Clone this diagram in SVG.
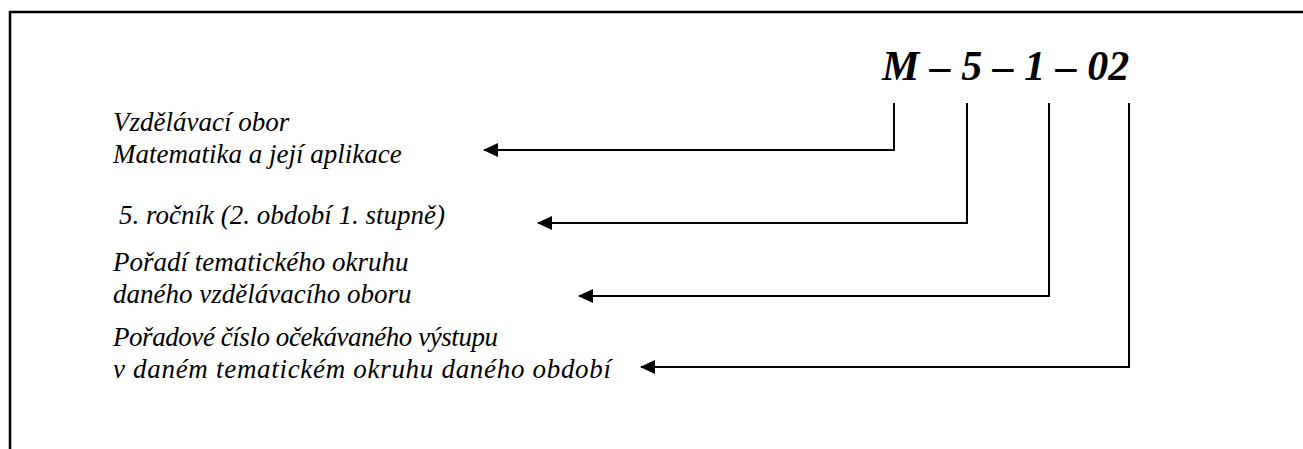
<svg xmlns="http://www.w3.org/2000/svg" width="1303" height="449" viewBox="0 0 1303 449">
<style>
.lbl{font-family:"Liberation Serif","Times New Roman",serif;font-style:italic;font-size:27px;fill:#000}
.title{font-family:"Liberation Serif","Times New Roman",serif;font-style:italic;font-weight:bold;font-size:42px;fill:#000}
.conn{fill:none;stroke:#000;stroke-width:2}
</style>
<defs>
<marker id="ah" viewBox="0 0 15 14" refX="14" refY="7" markerWidth="15" markerHeight="14" markerUnits="userSpaceOnUse" orient="auto">
<path d="M0,0 L15,7 L0,14 z" fill="#000"/>
</marker>
</defs>
<rect width="1303" height="449" fill="#fff"/>
<path d="M10,449 V12 H1303" fill="none" stroke="#000" stroke-width="2.5"/>
<g id="code"><text class="title" x="882" y="80">M – 5 – 1 – 02</text></g>
<g id="n1"><text class="lbl" x="113" y="131">Vzdělávací obor</text><text class="lbl" x="113" y="163">Matematika a její aplikace</text></g>
<g id="n2"><text class="lbl" x="119" y="224">5. ročník (2. období 1. stupně)</text></g>
<g id="n3"><text class="lbl" x="113" y="271">Pořadí tematického okruhu</text><text class="lbl" x="113" y="303">daného vzdělávacího oboru</text></g>
<g id="n4"><text class="lbl" x="113" y="346" textLength="385" lengthAdjust="spacing">Pořadové číslo očekávaného výstupu</text><text class="lbl" x="113" y="378" textLength="498" lengthAdjust="spacing">v daném tematickém okruhu daného období</text></g>
<g id="connectors">
<path class="conn" d="M894,103 V150 H484" marker-end="url(#ah)"/>
<path class="conn" d="M967,103 V223 H538" marker-end="url(#ah)"/>
<path class="conn" d="M1049,103 V296 H579" marker-end="url(#ah)"/>
<path class="conn" d="M1129,103 V367 H641" marker-end="url(#ah)"/>
</g>
</svg>
